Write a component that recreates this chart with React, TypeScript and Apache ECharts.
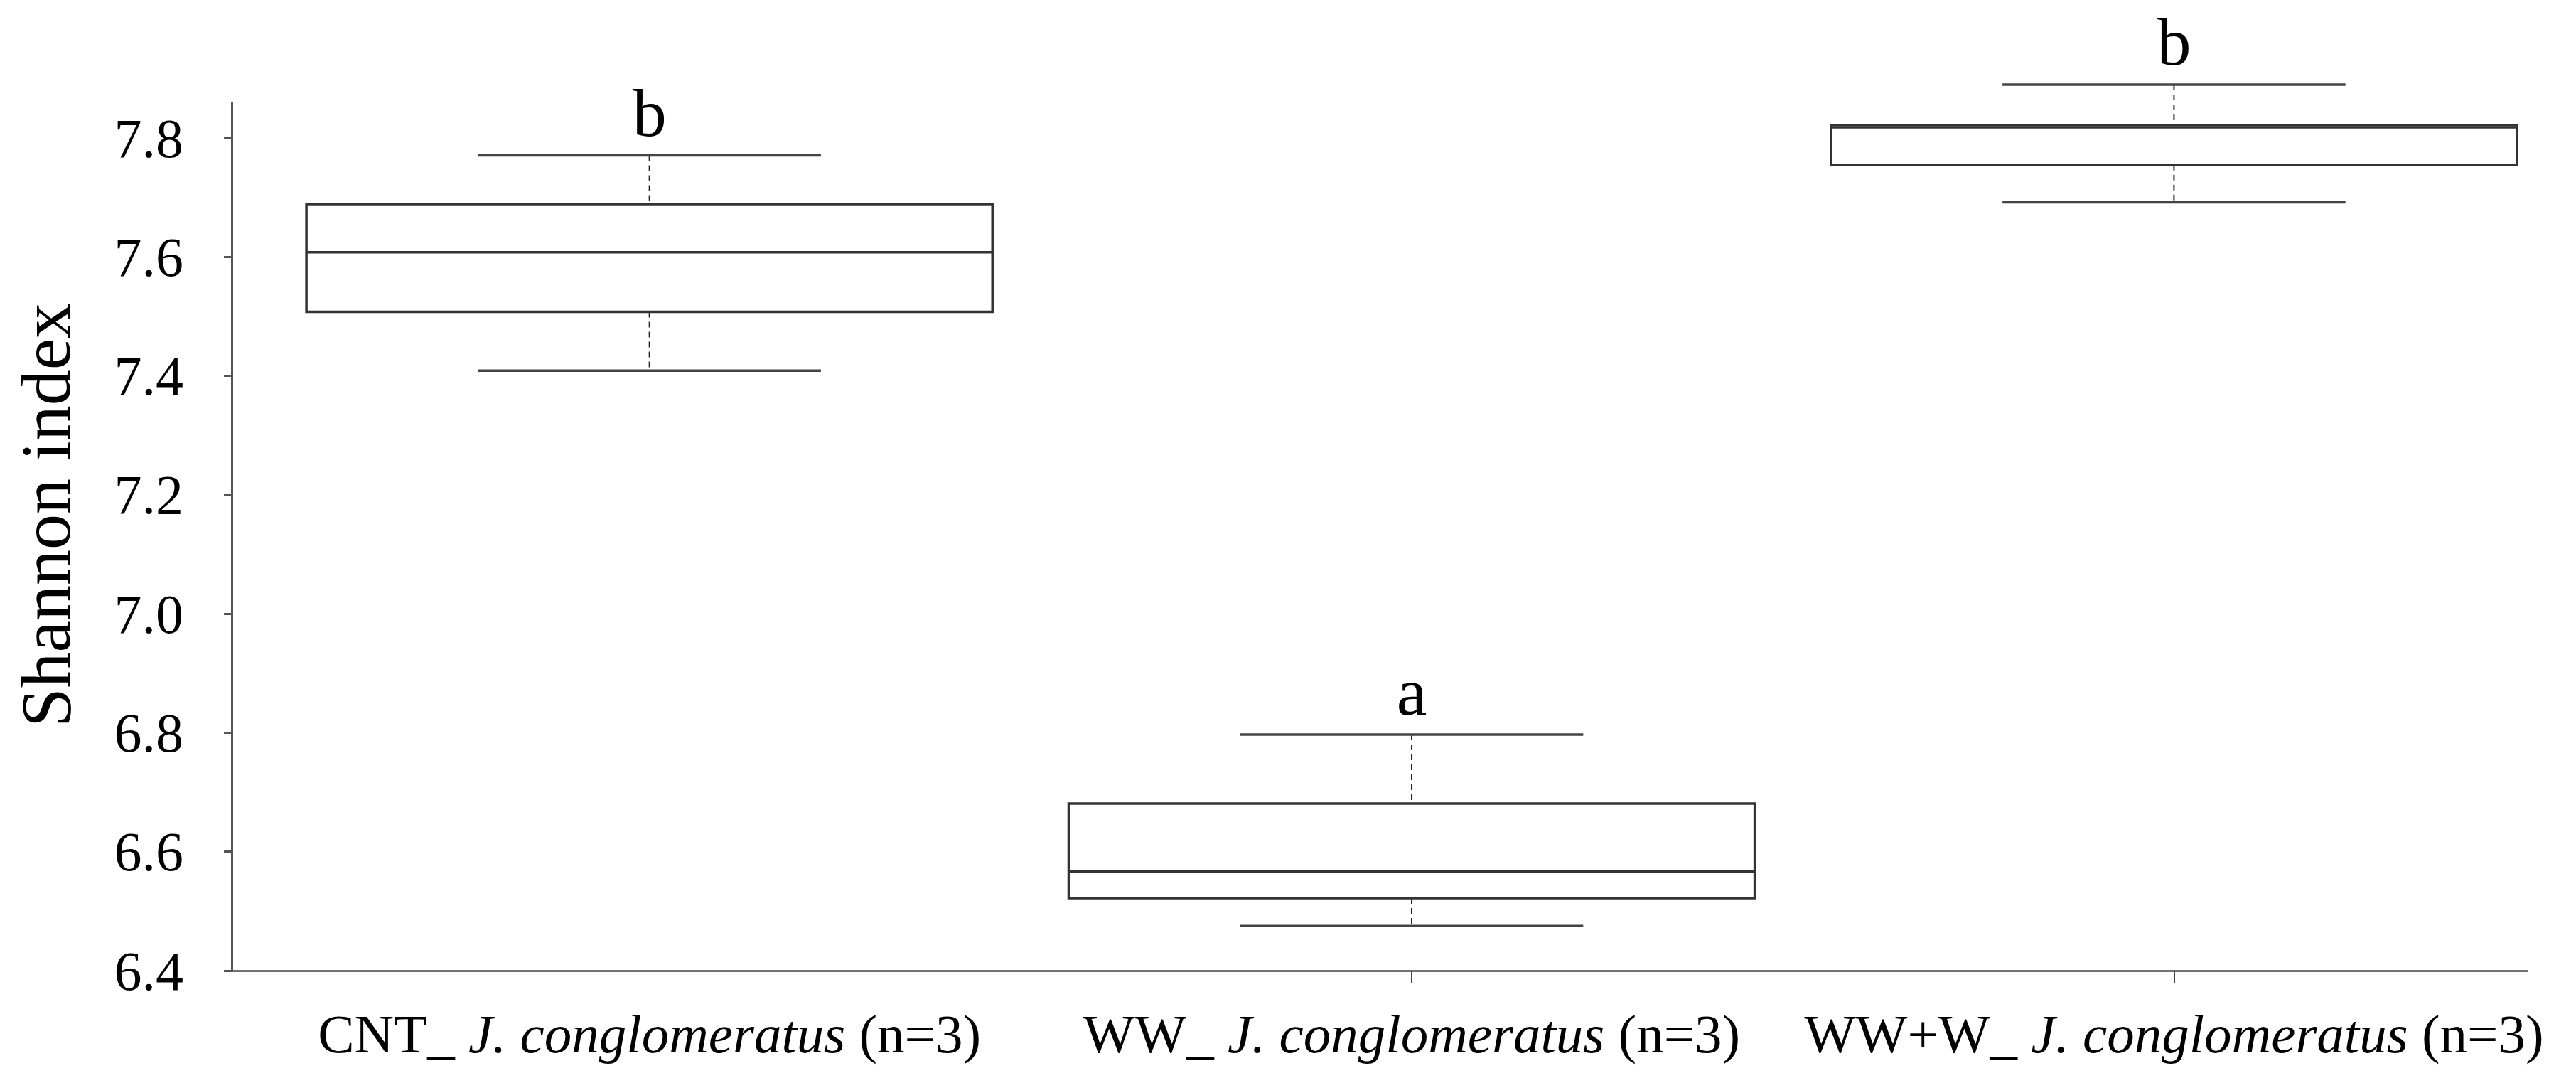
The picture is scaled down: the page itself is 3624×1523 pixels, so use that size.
import React, { useEffect, useRef } from "react";
import * as echarts from "echarts";

// ---- data ----
const categories = ["CNT_", "WW_", "WW+W_"];
const species = "J. conglomeratus";
const sampleSize = "(n=3)";
const whiskerLow = [7.409, 6.475, 7.692];
const lowerQuartile = [7.508, 6.522, 7.755];
const medians = [7.608, 6.567, 7.818];
const upperQuartile = [7.689, 6.681, 7.822];
const whiskerHigh = [7.771, 6.797, 7.89];
const groupLetters = ["b", "a", "b"];
const yTickValues = [6.4, 6.6, 6.8, 7.0, 7.2, 7.4, 7.6, 7.8];
const xLabelPositions = [1, 2, 3];
const xTickPositions = [2, 3];

const FONT = '"Liberation Serif", "Times New Roman", serif';

export default function App() {
  const ref = useRef<HTMLDivElement>(null);

  useEffect(() => {
    if (!ref.current) return;
    const chart = echarts.init(ref.current, null, { renderer: "svg" });

    const data = categories.map((_, i) => [
      i + 1,
      whiskerLow[i],
      lowerQuartile[i],
      medians[i],
      upperQuartile[i],
      whiskerHigh[i],
    ]);

    const lineColor = "#333333";

    const option: any = {
      animation: false,
      backgroundColor: "#ffffff",
      grid: { left: 326, right: 68, top: 144, bottom: 158, containLabel: false },
      xAxis: {
        type: "value",
        min: 0.452,
        max: 3.464,
        splitLine: { show: false },
        axisLine: { show: true, lineStyle: { color: "#444", width: 2.5 } },
        axisTick: {
          show: true,
          customValues: xTickPositions,
          length: 18,
          lineStyle: { color: "#444", width: 2 },
        },
        axisLabel: {
          customValues: xLabelPositions,
          margin: 50,
          formatter: (v: number) => {
            const i = Math.round(v) - 1;
            if (i < 0 || i >= categories.length) return "";
            return `{n|${categories[i]} }{i|${species}}{n| ${sampleSize}}`;
          },
          rich: {
            n: { fontFamily: FONT, fontSize: 77, color: "#000" },
            i: { fontFamily: FONT, fontSize: 77, fontStyle: "italic", color: "#000" },
          },
        },
      },
      yAxis: {
        type: "value",
        min: 6.4,
        max: 7.86,
        interval: 0.2,
        splitLine: { show: false },
        name: "Shannon index",
        nameLocation: "middle",
        nameGap: 212,
        nameTextStyle: { fontFamily: FONT, fontSize: 100, color: "#000", padding: [0, 0, 0, 60] },
        axisLine: { show: true, lineStyle: { color: "#555", width: 3 } },
        axisTick: {
          show: true,
          customValues: yTickValues,
          length: 11,
          lineStyle: { color: "#555", width: 3 },
        },
        axisLabel: {
          customValues: yTickValues,
          margin: 68,
          fontFamily: FONT,
          fontSize: 78,
          color: "#000",
          formatter: (v: number) => v.toFixed(1),
        },
      },
      series: [
        {
          type: "custom",
          clip: false,
          encode: { x: 0, y: [1, 2, 3, 4, 5] },
          data,
          renderItem: (params: any, api: any) => {
            const x = api.value(0);
            const pLow = api.coord([x, api.value(1)]);
            const pQ1 = api.coord([x, api.value(2)]);
            const pMed = api.coord([x, api.value(3)]);
            const pQ3 = api.coord([x, api.value(4)]);
            const pHigh = api.coord([x, api.value(5)]);
            const boxW = api.size([0.9, 0])[0];
            const capW = api.size([0.45, 0])[0];
            const cx = pMed[0];
            const letter = groupLetters[params.dataIndex];
            return {
              type: "group",
              children: [
                {
                  type: "line",
                  shape: { x1: cx, y1: pHigh[1], x2: cx, y2: pQ3[1] },
                  style: { stroke: "#222", lineWidth: 2, lineDash: [8, 6] },
                },
                {
                  type: "line",
                  shape: { x1: cx, y1: pQ1[1], x2: cx, y2: pLow[1] },
                  style: { stroke: "#222", lineWidth: 2, lineDash: [8, 6] },
                },
                {
                  type: "line",
                  shape: { x1: cx - capW / 2, y1: pHigh[1], x2: cx + capW / 2, y2: pHigh[1] },
                  style: { stroke: "#444", lineWidth: 3.5 },
                },
                {
                  type: "line",
                  shape: { x1: cx - capW / 2, y1: pLow[1], x2: cx + capW / 2, y2: pLow[1] },
                  style: { stroke: "#444", lineWidth: 3.5 },
                },
                {
                  type: "rect",
                  shape: {
                    x: cx - boxW / 2,
                    y: pQ3[1],
                    width: boxW,
                    height: pQ1[1] - pQ3[1],
                  },
                  style: { fill: "#ffffff", stroke: lineColor, lineWidth: 3.5 },
                },
                {
                  type: "line",
                  shape: { x1: cx - boxW / 2, y1: pMed[1], x2: cx + boxW / 2, y2: pMed[1] },
                  style: { stroke: lineColor, lineWidth: 3.5 },
                },
                {
                  type: "text",
                  style: {
                    text: letter,
                    x: cx,
                    y: pHigh[1] - 12,
                    align: "center",
                    verticalAlign: "bottom",
                    fontFamily: FONT,
                    fontSize: 96,
                    fill: "#000",
                  },
                },
              ],
            };
          },
        },
      ],
    };

    chart.setOption(option);
    return () => chart.dispose();
  }, []);

  return (
    <div
      ref={ref}
      style={{ position: "fixed", left: 0, top: 0, width: 3624, height: 1523, background: "#fff" }}
    />
  );
}
